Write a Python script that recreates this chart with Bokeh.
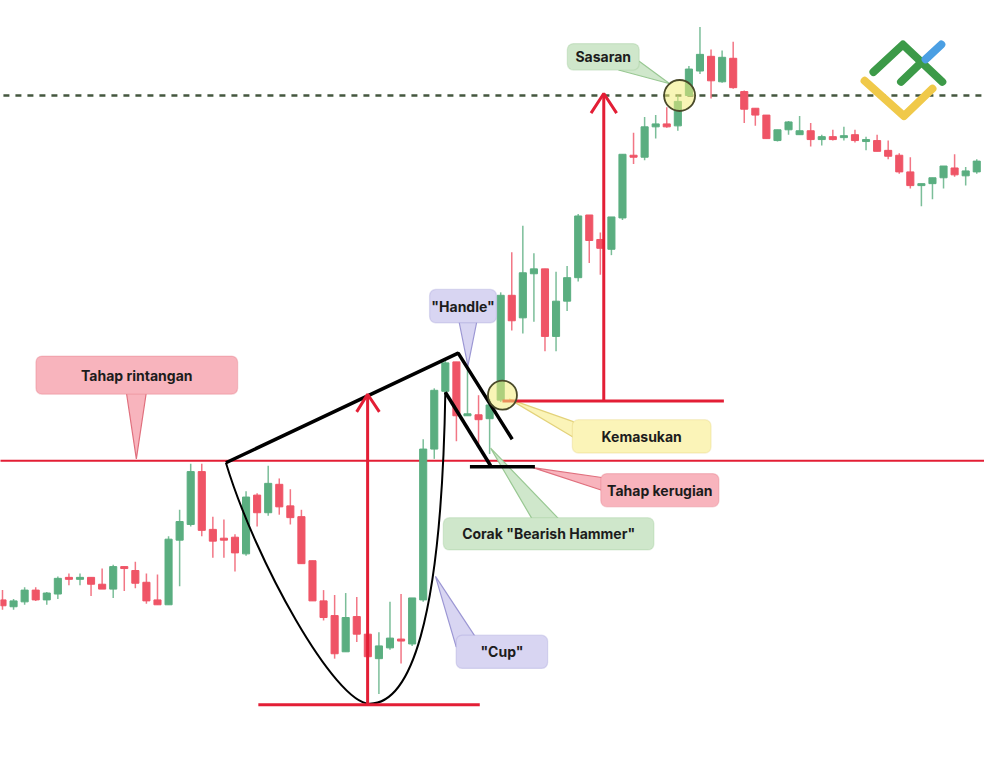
from bokeh.plotting import figure
from bokeh.models import Range1d, BoxAnnotation
from bokeh.embed import file_html
from bokeh.resources import INLINE
from bokeh.core.properties import value

# ---------------- candle data (bar index 0..88, arbitrary price units) ----------------
opens = [165,158,163,175,165,171,188,186,188,181,176,199,195,183,165,160,226,242,296,237,
         228,229,212,272,254,283,261,250,205,164,149,112,148,130,105,116,125,120,165,319,
         378,408,353,354,350,369,476,453,498,503,434,470,494,558,533,523,555,619,617,648,
         651,649,680,705,720,694,718,684,667,660,634,645,640,644,635,638,637,640,634,634,
         624,619,602,588,590,596,606,598,602]
highs = [175,166,178,178,173,189,192,192,188,197,201,199,204,192,191,230,257,304,304,250,
         247,232,276,274,302,289,278,257,205,175,170,172,168,130,132,163,171,167,329,381,
         410,408,404,374,370,479,520,547,519,503,500,506,559,558,540,556,620,642,658,660,
         668,680,710,750,727,726,735,685,667,660,645,654,659,652,640,645,648,645,638,640,
         634,621,617,590,596,608,620,607,615]
lows  = [155,155,160,164,160,166,180,180,169,176,167,174,177,161,160,160,179,240,230,208,
         208,194,210,240,251,252,242,202,164,144,105,112,122,105,69,114,100,118,163,309,
         375,327,353,324,314,367,440,437,449,419,419,460,490,509,497,517,553,610,614,636,
         647,644,679,702,677,693,687,652,649,636,633,640,640,628,629,634,634,632,624,623,
         615,600,585,567,574,585,597,588,600]
closes= [159,164,175,165,172,187,186,188,181,176,199,198,182,164,160,227,245,296,236,225,
         226,213,270,254,284,260,249,202,164,147,110,147,130,107,118,126,124,167,319,379,
         407,353,355,349,364,476,450,499,503,434,470,494,557,532,524,556,620,618,648,651,
         648,674,707,722,695,719,688,666,660,636,645,653,644,635,638,635,639,634,635,623,
         618,602,588,590,596,608,599,603,613]
idx = list(range(len(opens)))

# ---------------- levels / annotation anchors (chart units) ----------------
resistance = 307
target = 680
entry = 368
stop = 301
cup_low = 58

GREEN = "#5aae80"
RED = "#ef5466"
LINE_RED = "#e31e35"

p = figure(width=984, height=761, output_backend="svg", toolbar_location=None,
           x_range=Range1d(-0.18, 88.7), y_range=Range1d(0, 777),
           min_border=0, outline_line_color=None, background_fill_color="white")
p.axis.visible = False
p.grid.visible = False

# resistance & target lines
p.line([-1, 90], [resistance, resistance], line_color=LINE_RED, line_width=2)
p.line([-1, 90], [target, target], line_color="#44573f", line_width=2.5, line_dash="6 6")

# candles
up = [i for i in idx if closes[i] >= opens[i]]
dn = [i for i in idx if closes[i] < opens[i]]
for sel, col in ((up, GREEN), (dn, RED)):
    xs = sel
    p.segment(x0=xs, x1=xs, y0=[highs[i] for i in sel], y1=[lows[i] for i in sel],
              line_color=col, line_width=1.5, line_alpha=0.8)
    tops = [max(opens[i], closes[i]) for i in sel]
    bots = [min(opens[i], closes[i]) for i in sel]
    bots = [b if t - b >= 2 else t - 2 for t, b in zip(tops, bots)]
    p.vbar(x=xs, top=tops, bottom=bots, width=0.64, fill_color=col, line_color=col)

# ---------------- callout pointers ----------------
pointers = [
    ([11.2, 12.98, 12.09], [376, 376, 309], "#f8b4bd", "#e0707e"),   # Tahap rintangan
    ([41.24, 42.84, 42.04], [449, 449, 404], "#d8d5f2", "#9c97d4"),  # Handle
    ([45.78, 51.56, 51.56], [370, 347, 331], "#fbf4b8", "#e3d27a"),  # Kemasukan
    ([47.91, 54.13, 54.13], [300, 290, 277], "#f8b4bd", "#e0707e"),  # Tahap kerugian
    ([44.09, 47.82, 50.22], [320, 248, 248], "#cfe7cb", "#99c893"),  # Corak
    ([39.11, 40.98, 42.67], [189, 117, 128], "#d8d5f2", "#9c97d4"),  # Cup
    ([60.27, 55.64, 57.51], [692, 706, 715], "#cfe7cb", "#99c893"),  # Sasaran
]
for xs, ys, fc, lc in pointers:
    p.patch(xs, ys, fill_color=fc, line_color=lc, line_width=1.2)

# ---------------- cup & handle drawing ----------------
p.bezier(x0=[20.18], y0=[305], x1=[33.16], y1=[59], cx0=[22.84], cy0=[205], cx1=[30.04], cy1=[59],
         line_color="black", line_width=2)
p.bezier(x0=[33.16], y0=[59], x1=[40.0], y1=[377], cx0=[36.71], cy0=[59], cx1=[39.64], cy1=[137],
         line_color="black", line_width=2)
p.line([20.18, 41.16, 46.04], [305, 417, 329], line_color="black", line_width=3.5)
p.line([40.0, 44.09], [377, 302], line_color="black", line_width=3.5)
p.line([42.22, 48.09], [stop, stop], line_color="black", line_width=3.5)

# cup depth & target arrows
p.line([23.11, 43.11], [cup_low, cup_low], line_color=LINE_RED, line_width=3)
p.line([32.98, 32.98], [cup_low, 375], line_color=LINE_RED, line_width=3)
p.line([31.99, 32.98, 34.04], [357, 375, 357], line_color=LINE_RED, line_width=3)
p.line([45.16, 65.16], [entry, entry], line_color=LINE_RED, line_width=3)
p.line([54.31, 54.31], [entry, 682], line_color=LINE_RED, line_width=3)
p.line([53.16, 54.31, 55.47], [662, 682, 662], line_color=LINE_RED, line_width=3)

# highlight circles
p.scatter([45.16, 61.16], [374, 680], size=[29, 31], marker="circle",
          fill_color="#f3ec7a", fill_alpha=0.55, line_color="#4a4a2a", line_width=1.8)

# ---------------- logo ----------------
p.multi_line([[78.67, 81.33, 84.89], [81.16, 83.11]], [[704, 732, 694], [694, 715]],
             line_color="#3c9a48", line_width=8, line_cap="round", line_join="round")
p.line([83.38, 84.8], [717, 732], line_color="#4b9fe3", line_width=8, line_cap="round")
p.line([77.87, 81.42, 84.0], [695, 659, 687], line_color="#f0c94a", line_width=8,
       line_cap="round", line_join="round")

# ---------------- callout boxes ----------------
boxes = [
    (3.02, 21.24, 414, 375, "#f8b4bd", "#e0707e", "Tahap rintangan"),
    (38.58, 44.62, 482, 448, "#d8d5f2", "#9c97d4", "\"Handle\""),
    (51.47, 64.0, 349, 315, "#fbf4b8", "#e3d27a", "Kemasukan"),
    (54.04, 64.71, 294, 260, "#f8b4bd", "#e0707e", "Tahap kerugian"),
    (39.82, 58.84, 249, 216, "#cfe7cb", "#99c893", "Corak \"Bearish Hammer\""),
    (40.98, 49.24, 129, 95, "#d8d5f2", "#9c97d4", "\"Cup\""),
    (51.02, 57.51, 733, 706, "#cfe7cb", "#99c893", "Sasaran"),
]
for l, r, t, b, fc, lc, _ in boxes:
    p.add_layout(BoxAnnotation(left=l, right=r, top=t, bottom=b, fill_color=fc, fill_alpha=1,
                               line_color=lc, line_width=1.3, border_radius=6))
tr = p.text(x=[(b[0] + b[1]) / 2 for b in boxes], y=[(b[2] + b[3]) / 2 for b in boxes],
            text=[b[6] for b in boxes], text_align="center", text_baseline="middle",
            text_font=value("Inter"), text_font_size="14px", text_font_style="bold",
            text_color="#1c1c1c")
tr.level = "overlay"

open("out.html", "w").write(file_html(p, INLINE))
